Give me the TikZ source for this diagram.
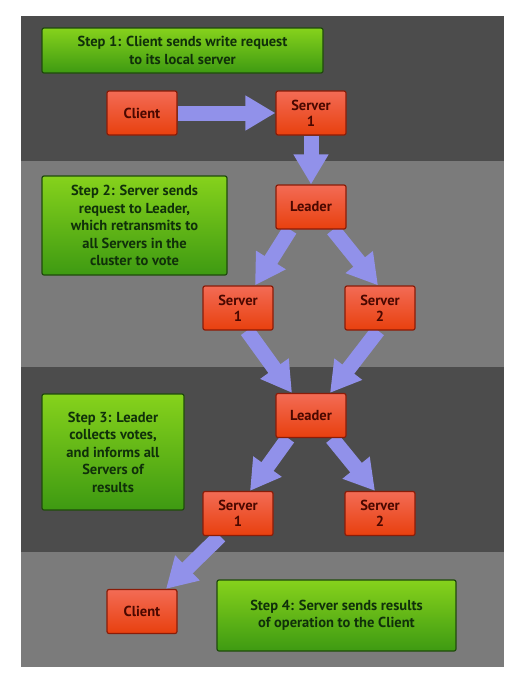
\documentclass[tikz,border=0pt]{standalone}
\usepackage{fontspec}
\setmainfont{PT Sans}
\usepackage{xcolor}
\usepackage{tikz}
\usetikzlibrary{arrows.meta,shapes,positioning}

\definecolor{banddark}{HTML}{4C4C4C}
\definecolor{bandlight}{HTML}{7B7B7B}
\definecolor{redtop}{HTML}{F36B55}
\definecolor{redbot}{HTML}{E8400E}
\definecolor{redline}{HTML}{8A1C08}
\definecolor{redtext}{HTML}{4A0800}
\definecolor{greentop}{HTML}{86D21C}
\definecolor{greenbot}{HTML}{3E9A12}
\definecolor{greenline}{HTML}{1F4A0C}
\definecolor{greentext}{HTML}{10300A}
\definecolor{flowblue}{HTML}{9191EA}

\pgfdeclarelayer{bands}
\pgfdeclarelayer{flows}
\pgfsetlayers{bands,flows,main}

\begin{document}
\begin{tikzpicture}[
    x=1pt, y=-1pt,
    box/.style={rectangle, draw, line width=1.2pt, rounded corners=2pt, text centered, font=\bfseries\fontsize{14.5}{16}\selectfont},
    server/.style={box, draw=redline, top color=redtop, bottom color=redbot, text=redtext, minimum width=70pt, minimum height=44pt, align=center},
    note/.style={box, draw=greenline, top color=greentop, bottom color=greenbot, text=greentext, align=center, font=\bfseries\fontsize{14.5}{17.5}\selectfont},
    flow/.style={line width=15pt, draw=flowblue, -{Triangle[width=33pt,length=30pt]}}
  ]
    \useasboundingbox (0,0) rectangle (519,680);

    % Bands
    \begin{pgfonlayer}{bands}
    \fill[white] (0,0) rectangle (519,680);
    \fill[banddark] (21,16) rectangle (504,161);
    \fill[bandlight] (21,161) rectangle (504,367);
    \fill[banddark] (21,367) rectangle (504,552);
    \fill[bandlight] (21,552) rectangle (504,667);
    \end{pgfonlayer}

    % Notes
    \node[note, minimum width=281pt, minimum height=45pt] (note1) at (182.5,50.5) {Step 1: Client sends write request\\to its local server};
    \node[note, minimum width=185pt, minimum height=99pt] (note2) at (134.5,225.5) {Step 2: Server sends\\request to Leader,\\which retransmits to\\all Servers in the\\cluster to vote};
    \node[note, minimum width=142pt, minimum height=116pt] (note3) at (113,452) {Step 3: Leader\\collects votes,\\and informs all\\Servers of\\results};
    \node[note, minimum width=239pt, minimum height=71pt] (note4) at (336.5,615.5) {Step 4: Server sends results\\of operation to the Client};

    % Servers
    \node[server] (clientA) at (142,113) {Client};
    \node[server] (srvTop) at (311,113) {Server\\1};
    \node[server] (leadA) at (311,207) {Leader};
    \node[server] (srvA1) at (238,308) {Server\\1};
    \node[server] (srvA2) at (380,308) {Server\\2};
    \node[server] (leadB) at (311,415.5) {Leader};
    \node[server] (srvB1) at (238,513.5) {Server\\1};
    \node[server] (srvB2) at (380,513.5) {Server\\2};
    \node[server] (clientB) at (142,611.5) {Client};

    % Flows
    \begin{pgfonlayer}{flows}
    \draw[flow] (clientA.east) -- (srvTop.west);
    \draw[flow] (srvTop.south) -- (leadA.north);
    \draw[flow] ([xshift=-21pt]leadA.south) -- ([xshift=17pt]srvA1.north);
    \draw[flow] ([xshift=22pt]leadA.south) -- ([xshift=-2pt]srvA2.north);
    \draw[flow] ([xshift=9pt]srvA1.south) -- ([xshift=-19pt]leadB.north);
    \draw[flow] ([xshift=-2pt]srvA2.south) -- ([xshift=19pt]leadB.north);
    \draw[flow] ([xshift=-23pt]leadB.south) -- ([xshift=12pt]srvB1.north);
    \draw[flow] ([xshift=21pt]leadB.south) -- ([xshift=-5pt]srvB2.north);
    \draw[flow] ([xshift=-18pt]srvB1.south) -- ([xshift=24pt]clientB.north);
    \end{pgfonlayer}
  \end{tikzpicture}
\end{document}
